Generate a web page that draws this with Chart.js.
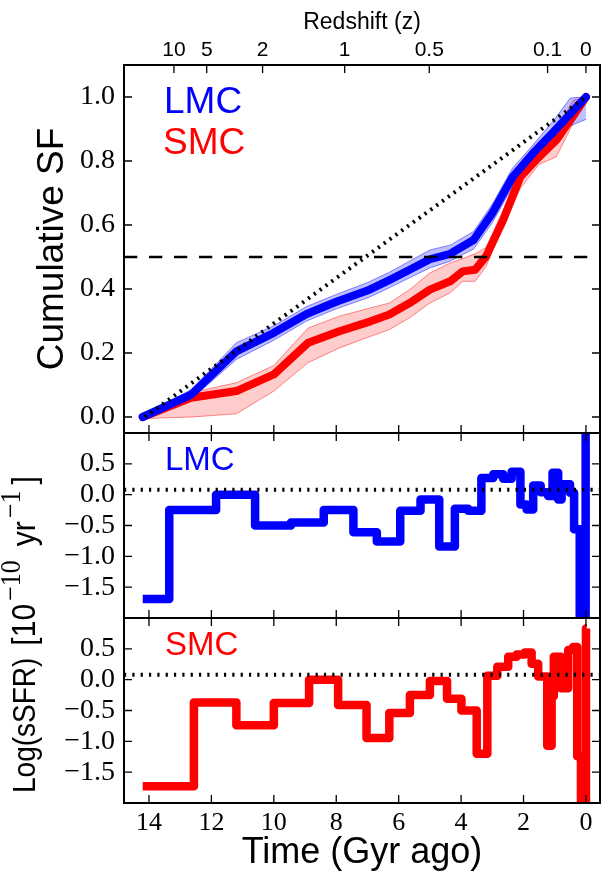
<!DOCTYPE html>
<html>
<head>
<meta charset="utf-8">
<script src="https://cdn.jsdelivr.net/npm/chart.js@4.4.1/dist/chart.umd.min.js"></script>
<style>
  html, body { margin: 0; padding: 0; background: #ffffff; }
  #wrap { width: 601px; height: 875px; }
</style>
</head>
<body>
<div id="wrap"><canvas id="c" width="601" height="875"></canvas></div>
<script>
// ---------------- data ----------------
const timeTicks = [14, 12, 10, 8, 6, 4, 2, 0];
const redshiftTimes = [13.2, 12.15, 10.36, 7.73, 5.02, 1.23, 0];
const redshiftLabels = ['10', '5', '2', '1', '0.5', '0.1', '0'];
const cumTicks = [0.0, 0.2, 0.4, 0.6, 0.8, 1.0];
const ssfrTicks = [-1.5, -1.0, -0.5, 0.0, 0.5];

// cumulative star formation (top panel)
const cumTimeLMC = [14.2, 12.65, 11.2, 10.0, 8.95, 8.0, 7.0, 6.3, 5.65, 5.0, 4.35, 3.6, 3.0, 2.35, 1.7, 1.05, 0.5, 0.0];
const cumLMC     = [0.0, 0.07, 0.205, 0.263, 0.322, 0.36, 0.395, 0.428, 0.46, 0.493, 0.51, 0.553, 0.637, 0.75, 0.824, 0.89, 0.948, 1.0];
const cumLMCHigh = [0.006, 0.085, 0.232, 0.285, 0.345, 0.383, 0.42, 0.452, 0.487, 0.522, 0.537, 0.58, 0.665, 0.778, 0.85, 0.925, 0.997, 1.0];
const cumLMCLow  = [-0.006, 0.055, 0.18, 0.24, 0.3, 0.338, 0.372, 0.404, 0.435, 0.466, 0.487, 0.525, 0.607, 0.72, 0.797, 0.86, 0.91, 0.93];

const cumTimeSMC = [14.2, 12.65, 11.2, 10.0, 8.9, 7.9, 6.9, 6.3, 5.65, 5.0, 4.35, 3.95, 3.55, 3.2, 2.65, 2.1, 1.5, 0.95, 0.4, 0.0];
const cumSMC     = [0.0, 0.06, 0.081, 0.133, 0.232, 0.268, 0.299, 0.32, 0.356, 0.398, 0.424, 0.455, 0.46, 0.502, 0.616, 0.751, 0.813, 0.865, 0.943, 1.0];
const cumSMCHigh = [0.005, 0.076, 0.107, 0.161, 0.278, 0.315, 0.341, 0.356, 0.398, 0.45, 0.481, 0.495, 0.51, 0.53, 0.647, 0.78, 0.84, 0.9, 0.99, 1.0];
const cumSMCLow  = [-0.005, 0.0, 0.01, 0.081, 0.17, 0.216, 0.252, 0.273, 0.31, 0.356, 0.388, 0.424, 0.424, 0.47, 0.6, 0.715, 0.79, 0.813, 0.92, 0.98];

const constSFTime = [14.13, 0.0];
const constSFCum  = [0.0, 1.0];
const halfMassLevel = 0.5;

// specific star formation rate (step histories)
const ssfrTimeLMC = [14.2, 13.35, 11.85, 10.6, 9.45, 8.4, 7.45, 6.7, 5.95, 5.3, 4.7, 4.2, 3.77, 3.35, 2.97, 2.65, 2.38, 2.1, 1.9, 1.69, 1.45, 1.21, 1.07, 0.89, 0.78, 0.51, 0.38, 0.2, 0.01, -0.03];
const ssfrLMC     = [-1.69, -0.25, 0.0, -0.5, -0.45, -0.25, -0.61, -0.76, -0.26, -0.08, -0.84, -0.23, -0.26, 0.27, 0.33, 0.26, 0.37, -0.16, -0.24, 0.15, 0.04, -0.02, 0.355, -0.08, 0.17, 0.03, -0.56, -2.6, 1.6, 1.6];

const ssfrTimeSMC = [14.2, 12.56, 11.2, 10.0, 8.87, 7.94, 7.03, 6.3, 5.64, 5.0, 4.45, 3.99, 3.5, 3.16, 2.84, 2.49, 2.22, 1.96, 1.74, 1.53, 1.24, 1.1, 1.03, 0.8, 0.57, 0.41, 0.28, 0.16, 0.0, -0.03];
const ssfrSMC     = [-1.73, -0.37, -0.74, -0.38, 0.0, -0.41, -0.945, -0.54, -0.25, -0.02, -0.31, -0.5, -1.2, 0.065, 0.21, 0.37, 0.41, 0.44, 0.26, 0.05, -1.07, -0.27, 0.37, -0.14, 0.48, 0.53, -1.24, -2.6, 0.83, 0.83];

const ssfrRefLevel = 0.08;

// ---------------- style ----------------
const SANS = "'Liberation Sans', Arial, Helvetica, sans-serif";
const SERIF = "'Liberation Serif', 'Times New Roman', serif";
const BLUE = '#0000ff';
const RED = '#ff0000';
const X_MIN = -0.45, X_MAX = 14.8;

function pts(xs, ys) { return xs.map((x, i) => ({ x: x, y: ys[i] })); }
function fmt(v) { const s = Math.abs(v).toFixed(1); return v < 0 ? '\u2212' + s : s; }

const base = { pointRadius: 0, pointHoverRadius: 0, tension: 0, fill: false };

const datasets = [
  Object.assign({}, base, { label: 'constant SF', data: pts(constSFTime, constSFCum), yAxisID: 'yTop',
    borderColor: '#000', borderWidth: 4, borderDash: [2.2, 5], borderCapStyle: 'butt' }),
  Object.assign({}, base, { label: 'LMC cumulative', data: pts(cumTimeLMC, cumLMC), yAxisID: 'yTop',
    borderColor: BLUE, borderWidth: 8, borderJoinStyle: 'round', borderCapStyle: 'round' }),
  Object.assign({}, base, { label: 'SMC cumulative', data: pts(cumTimeSMC, cumSMC), yAxisID: 'yTop',
    borderColor: RED, borderWidth: 8, borderJoinStyle: 'round', borderCapStyle: 'round' }),
  Object.assign({}, base, { label: 'LMC high', data: pts(cumTimeLMC, cumLMCHigh), yAxisID: 'yTop',
    borderColor: 'rgba(0,0,255,0.45)', borderWidth: 1, fill: '+1', backgroundColor: 'rgba(0,0,255,0.25)' }),
  Object.assign({}, base, { label: 'LMC low', data: pts(cumTimeLMC, cumLMCLow), yAxisID: 'yTop',
    borderColor: 'rgba(0,0,255,0.45)', borderWidth: 1 }),
  Object.assign({}, base, { label: 'SMC high', data: pts(cumTimeSMC, cumSMCHigh), yAxisID: 'yTop',
    borderColor: 'rgba(255,0,0,0.45)', borderWidth: 1, fill: '+1', backgroundColor: 'rgba(255,0,0,0.2)' }),
  Object.assign({}, base, { label: 'SMC low', data: pts(cumTimeSMC, cumSMCLow), yAxisID: 'yTop',
    borderColor: 'rgba(255,0,0,0.45)', borderWidth: 1 }),
  Object.assign({}, base, { label: 'LMC sSFR', data: pts(ssfrTimeLMC, ssfrLMC), yAxisID: 'yMid',
    borderColor: BLUE, borderWidth: 8.5, stepped: 'before', borderJoinStyle: 'round', borderCapStyle: 'butt' }),
  Object.assign({}, base, { label: 'SMC sSFR', data: pts(ssfrTimeSMC, ssfrSMC), yAxisID: 'yBot',
    borderColor: RED, borderWidth: 8.5, stepped: 'before', borderJoinStyle: 'round', borderCapStyle: 'butt' })
];

const noGrid = { display: false, drawTicks: false };
const noBorder = { display: false };

function yAxis(min, max, ticksArr, weightOrder, stackWeight, fmtFn, title) {
  return {
    type: 'linear', axis: 'y', position: 'left', stack: 'panels', stackWeight: stackWeight, weight: weightOrder,
    min: min, max: max, bounds: 'data',
    grid: noGrid, border: noBorder,
    afterBuildTicks: s => { s.ticks = ticksArr.map(v => ({ value: v })); },
    afterFit: s => { s.width = 124; },
    ticks: { font: { family: SERIF, size: 28 }, color: '#000', padding: 9, autoSkip: false, callback: v => fmtFn(v) },
    title: title
  };
}

const decorPlugin = {
  id: 'decor',
  afterDatasetsDraw(chart) {
    const ctx = chart.ctx, ca = chart.chartArea, S = chart.scales;
    const L = ca.left, R = ca.right;
    ctx.save();
    const hline = (scale, v, dash, lw) => {
      const y = scale.getPixelForValue(v);
      ctx.beginPath(); ctx.setLineDash(dash); ctx.lineWidth = lw; ctx.strokeStyle = '#000';
      ctx.moveTo(L, y); ctx.lineTo(R, y); ctx.stroke();
    };
    hline(S.yTop, halfMassLevel, [13.3, 11.7], 2.5);
    hline(S.yMid, ssfrRefLevel, [2.2, 6.13], 4);
    hline(S.yBot, ssfrRefLevel, [2.2, 6.13], 4);
    ctx.setLineDash([]);

    const TL = 8;
    ctx.lineWidth = 1.3; ctx.strokeStyle = '#000';
    ['yTop', 'yMid', 'yBot'].forEach(id => {
      const ys = S[id];
      ctx.beginPath();
      ys.ticks.forEach(t => {
        const y = ys.getPixelForValue(t.value);
        ctx.moveTo(L, y); ctx.lineTo(L + TL, y);
        ctx.moveTo(R, y); ctx.lineTo(R - TL, y);
      });
      S.x.ticks.forEach(t => {
        const x = S.x.getPixelForValue(t.value);
        ctx.moveTo(x, ys.bottom); ctx.lineTo(x, ys.bottom - TL);
        if (id !== 'yTop') { ctx.moveTo(x, ys.top); ctx.lineTo(x, ys.top + TL); }
      });
      if (id === 'yTop') {
        S.x2.ticks.forEach(t => {
          const x = S.x2.getPixelForValue(t.value);
          ctx.moveTo(x, ys.top); ctx.lineTo(x, ys.top + TL);
        });
      }
      ctx.stroke();
    });
    ctx.lineWidth = 2;
    ['yTop', 'yMid', 'yBot'].forEach(id => {
      const ys = S[id];
      ctx.strokeRect(L, ys.top, R - L, ys.bottom - ys.top);
    });

    ctx.textAlign = 'left'; ctx.textBaseline = 'alphabetic';
    ctx.font = '37px ' + SANS;
    ctx.fillStyle = BLUE; ctx.fillText('LMC', L + 40, S.yTop.top + 48);
    ctx.fillStyle = RED;  ctx.fillText('SMC', L + 39, S.yTop.top + 89);
    ctx.font = '33px ' + SANS;
    ctx.fillStyle = BLUE; ctx.fillText('LMC', L + 41, S.yMid.top + 37);
    ctx.fillStyle = RED;  ctx.fillText('SMC', L + 41, S.yBot.top + 37);
    ctx.restore();
  },
  afterDraw(chart) {
    const ctx = chart.ctx, S = chart.scales;
    const startY = S.yBot.bottom - 10;
    const main = '28px ' + SANS, big = '30px ' + SANS, sup = '26px ' + SERIF;
    const parts = [
      { t: 'Log(sSFR)', f: main, r: 0, g: 12 },
      { t: '[10', f: big, r: 0, g: 3 },
      { t: '\u221210', f: sup, r: 13, g: 14 },
      { t: 'yr', f: big, r: 0, g: 3 },
      { t: '\u22121', f: sup, r: 13, g: 6 },
      { t: ']', f: big, r: 0, g: 0 }
    ];
    ctx.save();
    ctx.translate(35, startY);
    ctx.rotate(-Math.PI / 2);
    ctx.scale(1, 1.12);
    ctx.fillStyle = '#000'; ctx.textAlign = 'left'; ctx.textBaseline = 'alphabetic';
    let x = 0;
    parts.forEach(p => {
      ctx.font = p.f;
      const w = ctx.measureText(p.t).width;
      ctx.fillText(p.t, x, -p.r);
      x += w + p.g;
    });
    ctx.restore();
  }
};

new Chart(document.getElementById('c'), {
  type: 'line',
  data: { datasets: datasets },
  plugins: [decorPlugin],
  options: {
    responsive: false,
    devicePixelRatio: 1,
    animation: false,
    events: [],
    layout: { padding: { top: 0, right: 1, bottom: 0, left: 0 } },
    plugins: { legend: { display: false }, tooltip: { enabled: false }, title: { display: false } },
    scales: {
      x: {
        type: 'linear', position: 'bottom', reverse: true, min: X_MIN, max: X_MAX, bounds: 'data',
        grid: noGrid, border: noBorder,
        afterBuildTicks: s => { s.ticks = timeTicks.map(v => ({ value: v })); },
        afterFit: s => { s.height = 72; },
        ticks: { font: { family: SERIF, size: 26 }, color: '#000', padding: 5, autoSkip: false, maxRotation: 0,
                 callback: v => String(v) },
        title: { display: true, text: 'Time (Gyr ago)', font: { family: SANS, size: 36 }, color: '#000',
                 padding: { top: 0, bottom: 0 } }
      },
      x2: {
        type: 'linear', axis: 'x', position: 'top', reverse: true, min: X_MIN, max: X_MAX, bounds: 'data',
        grid: noGrid, border: noBorder,
        afterBuildTicks: s => { s.ticks = redshiftTimes.map(v => ({ value: v })); },
        afterFit: s => { s.height = 65; },
        ticks: { font: { family: SANS, size: 21 }, color: '#000', padding: 2.5, autoSkip: false, maxRotation: 0,
                 callback: v => redshiftLabels[redshiftTimes.indexOf(v)] },
        title: { display: true, text: 'Redshift (z)', font: { family: SANS, size: 23 }, color: '#000',
                 padding: { top: 9, bottom: 0 } }
      },
      yTop: yAxis(-0.05, 1.1, cumTicks, 3, 368, v => v.toFixed(1),
        { display: true, text: 'Cumulative SF', font: { family: SANS, size: 37 }, color: '#000', padding: { top: 31, bottom: 0 } }),
      yMid: yAxis(-2, 1, ssfrTicks, 2, 185, fmt, { display: false }),
      yBot: yAxis(-2, 1, ssfrTicks, 1, 185, fmt, { display: false })
    }
  }
});
</script>
</body>
</html>
